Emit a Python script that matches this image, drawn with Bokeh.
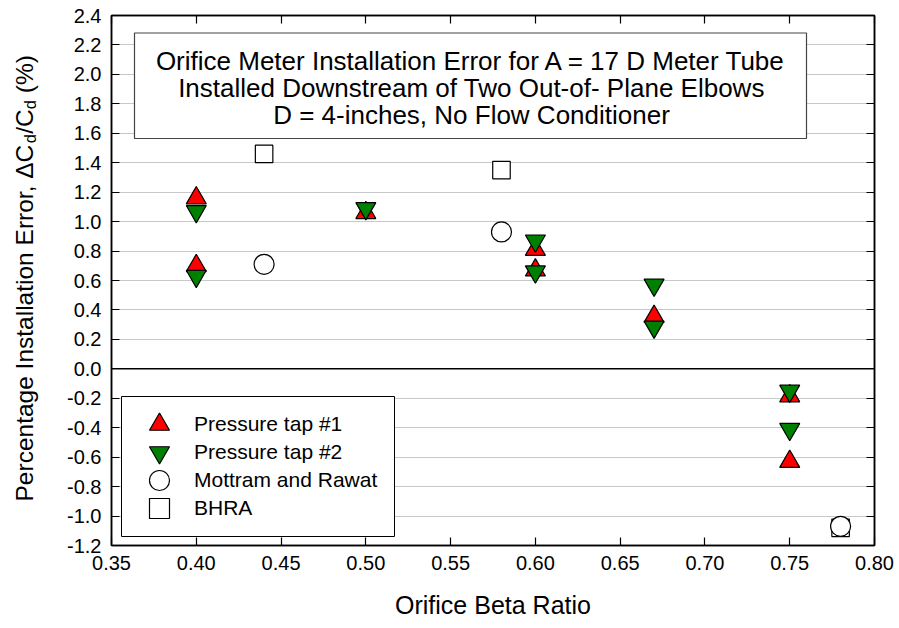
from bokeh.plotting import figure
from bokeh.layouts import row
from bokeh.models import (FixedTicker, PrintfTickFormatter, LinearAxis, Span,
                          BoxAnnotation, Label, Legend, LegendItem, CustomJSTickFormatter, Range1d)
from bokeh.embed import file_html
from bokeh.resources import INLINE

# ---------------- data ----------------
tap1_beta = [0.40, 0.40, 0.50, 0.60, 0.60, 0.67, 0.75, 0.75]
tap1_err = [1.16, 0.70, 1.06, 0.81, 0.67, 0.355, -0.185, -0.63]

tap2_beta = [0.40, 0.40, 0.50, 0.60, 0.60, 0.67, 0.67, 0.75, 0.75]
tap2_err = [1.07, 0.63, 1.09, 0.87, 0.66, 0.57, 0.285, -0.15, -0.41]

mottram_beta = [0.44, 0.58, 0.78]
mottram_err = [0.71, 0.93, -1.07]

bhra_beta = [0.44, 0.58, 0.78]
bhra_err = [1.46, 1.35, -1.08]

x_ticks = [0.35, 0.40, 0.45, 0.50, 0.55, 0.60, 0.65, 0.70, 0.75, 0.80]
y_ticks = [-1.2, -1.0, -0.8, -0.6, -0.4, -0.2, 0.0, 0.2, 0.4, 0.6, 0.8,
           1.0, 1.2, 1.4, 1.6, 1.8, 2.0, 2.2, 2.4]

legend_labels = ["Pressure tap #1", "Pressure tap #2", "Mottram and Rawat", "BHRA"]
title_lines = ["Orifice Meter Installation Error for A = 17 D Meter Tube",
               "Installed Downstream of Two Out-of- Plane Elbows",
               "D = 4-inches, No Flow Conditioner"]
x_label = "Orifice Beta Ratio"
y_label_parts = ["Percentage Installation Error, \u0394C", "d", "/C", "d", "(%)"]

# ---------------- layout ----------------
XMIN, XMAX = 0.35, 0.80
YMIN, YMAX = -1.2, 2.4
FW, FH = 763, 530
PAGE_L, PAGE_T = 111, 15   # frame position on the page
LAB_W = 50                 # width of the strip that holds the y-axis title
BOTTOM = 80
FONT = "Liberation Sans"


def dx(px):
    return XMIN + (px - PAGE_L) * (XMAX - XMIN) / FW


def dy(py):
    return YMAX - (py - PAGE_T) * (YMAX - YMIN) / FH


p = figure(frame_width=FW, frame_height=FH,
           x_range=Range1d(XMIN, XMAX), y_range=Range1d(YMIN, YMAX),
           output_backend="svg", toolbar_location=None,
           min_border_left=PAGE_L - LAB_W, min_border_top=PAGE_T,
           min_border_right=20, min_border_bottom=BOTTOM)
p.background_fill_color = "white"
p.border_fill_color = "white"
p.outline_line_color = "black"
p.outline_line_width = 1.5

bottom_axis = p.below[0]
left_axis = p.left[0]
top_axis = LinearAxis()
right_axis = LinearAxis()
p.add_layout(top_axis, "above")
p.add_layout(right_axis, "right")

for ax in [bottom_axis, top_axis]:
    ax.ticker = FixedTicker(ticks=x_ticks)
for ax in [left_axis, right_axis]:
    ax.ticker = FixedTicker(ticks=y_ticks)

for ax in [bottom_axis, left_axis, top_axis, right_axis]:
    ax.axis_line_color = "black"
    ax.axis_line_width = 1.5
    ax.major_tick_in = 8
    ax.major_tick_out = 0
    ax.major_tick_line_width = 1.2
    ax.major_tick_line_color = "black"
    ax.minor_tick_line_color = None
    ax.major_label_text_font = FONT
    ax.major_label_text_font_size = "20px"
    ax.major_label_text_color = "black"

bottom_axis.formatter = PrintfTickFormatter(format="%.2f")
left_axis.formatter = PrintfTickFormatter(format="%.1f")
bottom_axis.major_label_standoff = 10
left_axis.major_label_standoff = 10
for ax in [top_axis, right_axis]:
    ax.formatter = CustomJSTickFormatter(code="return ''")
    ax.major_label_text_font_size = "0px"
    ax.major_label_standoff = 0

bottom_axis.axis_label = x_label
bottom_axis.axis_label_text_font = FONT
bottom_axis.axis_label_text_font_size = "25px"
bottom_axis.axis_label_text_font_style = "normal"
bottom_axis.axis_label_text_color = "black"
bottom_axis.axis_label_standoff = 18

p.xgrid.visible = False
p.ygrid.grid_line_color = "#c8c8c8"
p.ygrid.grid_line_width = 1

zero = Span(location=0, dimension="width", line_color="black", line_width=1.5, level="underlay")
p.add_layout(zero)

# ---------------- data marks ----------------
r1 = p.scatter(tap1_beta, tap1_err, marker="triangle", size=20, fill_color="#ff0000",
               line_color="black", line_width=1.2)
r2 = p.scatter(tap2_beta, tap2_err, marker="inverted_triangle", size=20, fill_color="#008000",
               line_color="black", line_width=1.2)
r4 = p.scatter(bhra_beta, bhra_err, marker="square", size=17.5, fill_color="white",
               line_color="black", line_width=1.2)
r3 = p.scatter(mottram_beta, mottram_err, marker="circle", size=20, fill_color="white",
               line_color="black", line_width=1.2)

# ---------------- title box ----------------
box = BoxAnnotation(left=dx(134), right=dx(806), top=dy(32.5), bottom=dy(138),
                    fill_color="white", fill_alpha=1.0, line_color="#444444", line_alpha=1.0,
                    line_width=1.2, level="annotation")
p.add_layout(box)
for line, base in zip(title_lines, [60.5, 87.7, 114.8]):
    p.add_layout(Label(x=dx(471), y=dy(base), text=line, text_align="center",
                       text_baseline="alphabetic", text_font=FONT, text_font_size="26px",
                       text_color="black"))

# ---------------- legend ----------------
legend_box = BoxAnnotation(left=dx(121), right=dx(394), top=dy(396), bottom=dy(536),
                           fill_color="white", fill_alpha=1.0, line_color="black",
                           line_alpha=1.0, line_width=1.0, level="annotation")
p.add_layout(legend_box)

row_offsets = [96, 68, 40, 12]   # bottom of each legend row above the frame bottom (px)
for lab, rend, off in zip(legend_labels, [r1, r2, r3, r4], row_offsets):
    lg = Legend(items=[LegendItem(label=lab, renderers=[rend])],
                location=(23, off), orientation="vertical", padding=0, spacing=0,
                glyph_width=50, glyph_height=50, label_height=28,
                label_standoff=10, label_text_font=FONT, label_text_font_size="21px",
                label_text_color="black", border_line_color=None,
                background_fill_alpha=0.0, margin=0)
    p.add_layout(lg)

# ---------------- y-axis title strip (shares the y scale) ----------------
ylab = figure(frame_width=LAB_W, frame_height=FH, x_range=Range1d(0, LAB_W), y_range=p.y_range,
              output_backend="svg", toolbar_location=None, title=None,
              x_axis_location=None, y_axis_location=None,
              min_border_left=0, min_border_right=0, min_border_top=PAGE_T,
              min_border_bottom=BOTTOM)
ylab.outline_line_color = None
ylab.grid.visible = False
ylab.background_fill_color = "white"
ylab.border_fill_color = "white"

F_MAIN, F_SUB = 24.5, 16.5
# advance (px along the text) of each piece, plus the gap before the next one
widths = [14.618 * F_MAIN, 0.556 * F_SUB + 0.5, 1.0 * F_MAIN, 0.556 * F_SUB + 0.278 * F_MAIN, 0]
sizes = [F_MAIN, F_SUB, F_MAIN, F_SUB, F_MAIN]
BASE_X = 24
shifts = [0, 5, 0, 5, 0]
pos = 501.0
for txt, w, fs, sh in zip(y_label_parts, widths, sizes, shifts):
    ylab.add_layout(Label(x=BASE_X + sh, y=dy(pos), text=txt, angle=1.5707963267948966,
                          text_align="left", text_baseline="alphabetic", text_font=FONT,
                          text_font_size=f"{fs}px", text_color="black"))
    pos -= w

layout = row(ylab, p, spacing=0)
open("out.html", "w").write(file_html(layout, INLINE))
